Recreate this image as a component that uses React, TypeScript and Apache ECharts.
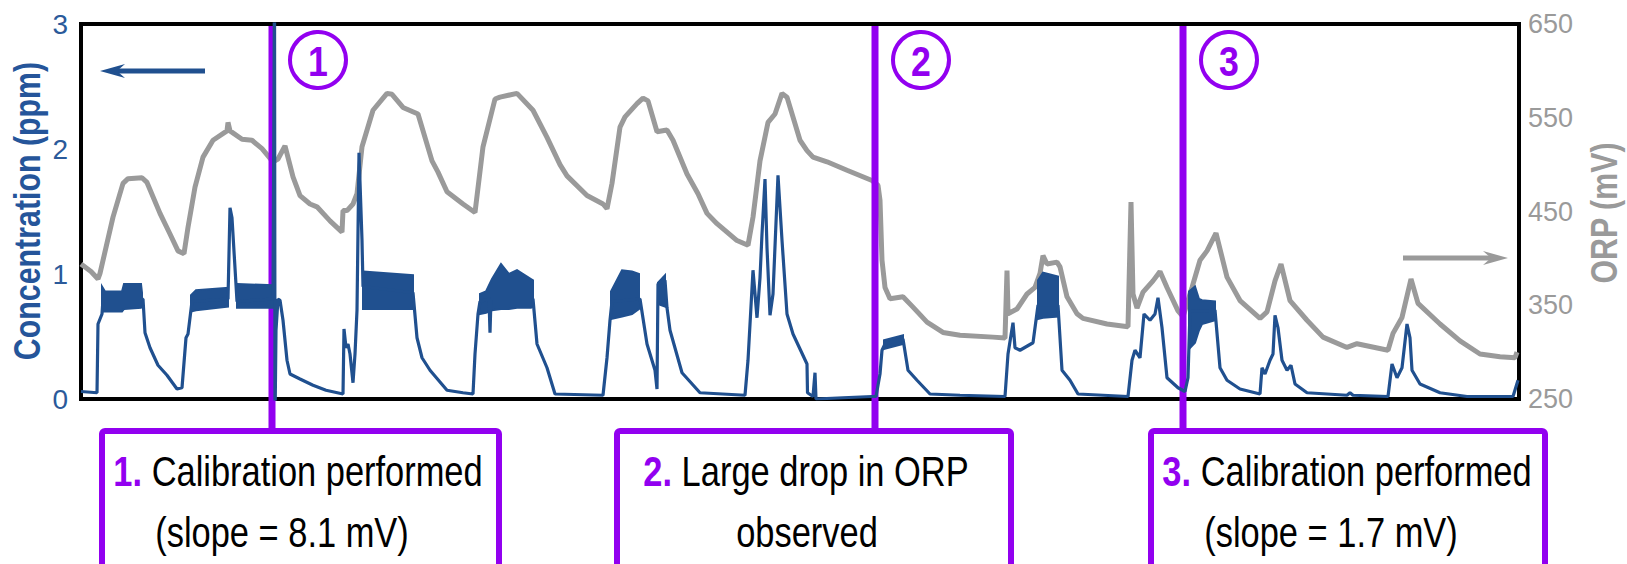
import React, { useEffect, useRef } from "react";
import * as echarts from "echarts";

// x: elapsed time in minutes (0–1438)
const timeMin = 0;
const timeMax = 1438;

// left axis: concentration (ppm)
const concMin = 0;
const concMax = 3;
const concStep = 1;

// right axis: ORP (mV)
const orpMin = 250;
const orpMax = 650;
const orpStep = 100;

// ORP trace [minute, mV]
const orpData: number[][] = [
  [0, 394], [10, 386], [17, 378], [19, 384], [32, 444], [42, 480], [47, 485], [61, 486], [66, 481], [79, 448],
  [89, 426], [97, 408], [103, 405], [107, 433], [114, 476], [122, 508], [132, 526], [146, 536], [147, 545], [149, 536],
  [161, 527], [171, 526], [181, 517], [192, 503], [197, 506], [204, 520], [212, 487], [219, 467], [229, 458], [236, 455],
  [249, 440], [261, 428], [262, 451], [266, 451], [272, 458], [276, 469], [281, 519], [292, 558], [306, 576], [311, 575],
  [322, 561], [337, 554], [351, 504], [357, 492], [366, 471], [382, 458], [394, 449], [402, 519], [414, 570], [419, 572],
  [436, 576], [452, 558], [466, 529], [479, 500], [486, 488], [506, 467], [522, 458], [526, 453], [531, 480], [539, 540],
  [544, 551], [556, 565], [562, 571], [567, 568], [576, 535], [586, 537], [592, 526], [606, 490], [617, 469], [626, 448],
  [636, 437], [656, 419], [667, 414], [672, 444], [679, 504], [687, 545], [694, 554], [701, 576], [706, 572], [719, 526],
  [726, 515], [732, 508], [746, 503], [766, 494], [791, 483], [797, 478], [799, 462], [801, 398], [804, 369], [809, 357],
  [822, 359], [832, 348], [846, 332], [862, 321], [879, 318], [912, 316], [924, 315], [926, 387], [927, 341], [936, 346],
  [946, 362], [954, 369], [959, 384], [962, 403], [966, 394], [976, 396], [979, 391], [986, 359], [996, 341], [1002, 336],
  [1026, 330], [1047, 327], [1050, 460], [1052, 362], [1056, 347], [1062, 364], [1072, 376], [1079, 386], [1086, 369], [1097, 344],
  [1102, 338], [1107, 355], [1111, 369], [1119, 398], [1126, 408], [1135, 427], [1146, 380], [1159, 355], [1179, 336], [1186, 343],
  [1194, 376], [1200, 394], [1209, 355], [1226, 334], [1242, 316], [1266, 305], [1276, 309], [1307, 302], [1312, 320], [1321, 337],
  [1330, 378], [1337, 352], [1359, 330], [1379, 312], [1399, 298], [1419, 295], [1434, 294], [1436, 300],
];

// Concentration trace [minute, ppm]
const concData: number[][] = [
  [0, 0.06], [16, 0.05], [17, 0.6], [21, 0.68], [22, 0.8], [62, 0.8], [64, 0.53], [69, 0.41], [77, 0.27], [86, 0.19],
  [96, 0.08], [101, 0.09], [105, 0.49], [107, 0.52], [111, 0.78], [147, 0.8], [149, 1.53], [151, 1.45], [156, 0.78], [192, 0.8],
  [193.5, 3.4], [194, -0.2], [195, 0.55], [197, 0.8], [199, 0.79], [202, 0.63], [206, 0.31], [209, 0.2], [219, 0.16], [232, 0.11],
  [245, 0.07], [262, 0.04], [263, 0.56], [265, 0.41], [267, 0.44], [269, 0.36], [272, 0.13], [274, 0.36], [276, 0.71], [278, 1.97],
  [281, 1.27], [282, 0.9], [332, 0.85], [336, 0.49], [341, 0.33], [349, 0.23], [366, 0.07], [382, 0.05], [392, 0.04], [394, 0.36],
  [397, 0.68], [399, 0.78], [408, 0.8], [409, 0.53], [410, 0.8], [452, 0.8], [456, 0.44], [466, 0.25], [474, 0.04], [522, 0.03],
  [526, 0.33], [529, 0.63], [531, 0.78], [559, 0.8], [566, 0.44], [574, 0.23], [576, 0.08], [577, 0.92], [584, 0.95], [586, 0.73],
  [589, 0.55], [601, 0.21], [619, 0.05], [664, 0.03], [667, 0.31], [672, 1.03], [676, 0.65], [679, 0.97], [681, 1.32], [684, 1.76],
  [686, 1.21], [689, 0.67], [692, 0.84], [697, 1.79], [701, 1.27], [706, 0.68], [712, 0.52], [726, 0.28], [726.5, 0.05], [732, 0.02],
  [734, 0.21], [735, 0.0], [762, 0.01], [791, 0.02], [795, 0.02], [799, 0.2], [801, 0.39], [804, 0.44], [822, 0.48], [827, 0.23],
  [836, 0.15], [849, 0.04], [879, 0.03], [924, 0.02], [927, 0.36], [932, 0.61], [934, 0.41], [939, 0.39], [952, 0.45], [957, 0.75],
  [977, 0.75], [981, 0.23], [989, 0.15], [997, 0.04], [1047, 0.02], [1051, 0.31], [1054, 0.39], [1059, 0.33], [1063, 0.68], [1069, 0.63],
  [1074, 0.68], [1077, 0.81], [1081, 0.57], [1086, 0.17], [1097, 0.09], [1104, 0.06], [1107, 0.17], [1109, 0.7], [1134, 0.71], [1139, 0.25],
  [1146, 0.15], [1159, 0.08], [1179, 0.04], [1181, 0.25], [1184, 0.2], [1189, 0.31], [1192, 0.36], [1194, 0.67], [1197, 0.57], [1201, 0.31],
  [1206, 0.23], [1210, 0.27], [1214, 0.12], [1226, 0.05], [1266, 0.03], [1269, 0.05], [1272, 0.03], [1307, 0.02], [1311, 0.28], [1316, 0.17],
  [1321, 0.25], [1326, 0.6], [1329, 0.49], [1331, 0.23], [1339, 0.12], [1359, 0.05], [1386, 0.02], [1432, 0.02], [1437, 0.15],
];

// Fast-oscillation envelopes of the concentration signal [minute, low ppm, high ppm]
const concBands: number[][][] = [
  [[21, 0.7, 0.9], [24, 0.7, 0.86], [41, 0.7, 0.86], [43, 0.72, 0.92], [60, 0.73, 0.92], [61, 0.74, 0.85]],
  [[110, 0.7, 0.83], [115, 0.71, 0.87], [147, 0.74, 0.89]],
  [[156, 0.73, 0.92], [192, 0.73, 0.91]],
  [[282, 0.72, 1.02], [332, 0.72, 0.99]],
  [[399, 0.68, 0.84], [405, 0.69, 0.86], [411, 0.71, 0.96], [420, 0.72, 1.08], [428, 0.72, 1.0], [436, 0.73, 1.03], [450, 0.73, 0.96], [452, 0.74, 0.95]],
  [[530, 0.64, 0.86], [541, 0.66, 1.03], [551, 0.68, 1.02], [558, 0.72, 1.0]],
  [[577, 0.76, 0.93], [584, 0.74, 0.99]],
  [[803, 0.4, 0.47], [822, 0.44, 0.51]],
  [[957, 0.64, 0.95], [962, 0.65, 1.01], [977, 0.66, 0.98]],
  [[1108, 0.4, 0.86], [1114, 0.45, 0.9], [1118, 0.55, 0.8], [1121, 0.6, 0.79], [1134, 0.63, 0.78]],
];

// Events (minute at which they occur)
const eventTimes = [191, 794, 1102];
const eventNumbers = ["1", "2", "3"];
const eventLine1 = ["Calibration performed", "Large drop in ORP", "Calibration performed"];
const eventLine2 = ["(slope = 8.1 mV)", "observed", "(slope = 1.7 mV)"];

const PURPLE = "#9200f0";
const BLUE = "#20508f";
const BLUE_TXT = "#2b5a9a";
const GRAY = "#9a9a9a";
const SANS = "'Liberation Sans', Arial, sans-serif";
const NARROW_X = 0.82; // condense Liberation Sans to an Arial-Narrow-like width

const GRID_TOP = 24;
const BOX_TOP = 431;

export default function App() {
  const ref = useRef<HTMLDivElement>(null);

  useEffect(() => {
    if (!ref.current) return;
    const chart = echarts.init(ref.current, undefined, { renderer: "svg" });

    chart.setOption({
      animation: false,
      backgroundColor: "#ffffff",
      grid: {
        left: 81,
        right: 108,
        top: GRID_TOP,
        bottom: 165,
        show: true,
        borderColor: "#000000",
        borderWidth: 4,
        backgroundColor: "transparent",
      },
      xAxis: { type: "value", min: timeMin, max: timeMax, show: false },
      yAxis: [
        {
          type: "value",
          min: concMin,
          max: concMax,
          interval: concStep,
          position: "left",
          axisLine: { show: false },
          axisTick: { show: false },
          splitLine: { show: false },
          axisLabel: { color: BLUE_TXT, fontSize: 28, fontFamily: SANS, margin: 13 },
        },
        {
          type: "value",
          min: orpMin,
          max: orpMax,
          interval: orpStep,
          position: "right",
          axisLine: { show: false },
          axisTick: { show: false },
          splitLine: { show: false },
          axisLabel: { color: GRAY, fontSize: 27, fontFamily: SANS, margin: 9 },
        },
      ],
      series: [
        {
          type: "line",
          name: "ORP",
          yAxisIndex: 1,
          data: orpData,
          showSymbol: false,
          symbol: "none",
          lineStyle: { color: GRAY, width: 5 },
          z: 2,
        },
        {
          type: "custom",
          name: "events",
          yAxisIndex: 0,
          data: eventTimes.map((t) => [t, 0]),
          encode: { x: 0, y: 1 },
          clip: false,
          z: 3,
          renderItem: (params: any, api: any) => {
            const x = api.coord([api.value(0), 0])[0];
            return {
              type: "line",
              shape: { x1: x, y1: GRID_TOP + 2, x2: x, y2: BOX_TOP },
              style: { stroke: PURPLE, lineWidth: 7 },
            };
          },
        },
        {
          type: "custom",
          name: "band",
          yAxisIndex: 0,
          data: concBands.map((b) => [b[0][0], b[0][1]]),
          encode: { x: 0, y: 1 },
          z: 5,
          renderItem: (params: any, api: any) => {
            const band = concBands[params.dataIndex];
            const upper = band.map((p) => api.coord([p[0], p[2]]));
            const lower = band
              .slice()
              .reverse()
              .map((p) => api.coord([p[0], p[1]]));
            return {
              type: "polygon",
              shape: { points: upper.concat(lower) },
              style: { fill: BLUE, stroke: BLUE, lineWidth: 2 },
            };
          },
        },
        {
          type: "line",
          name: "Concentration",
          yAxisIndex: 0,
          data: concData,
          showSymbol: false,
          symbol: "none",
          lineStyle: { color: BLUE, width: 3.2 },
          z: 6,
        },
      ],
    });

    const px = eventTimes.map((t) => chart.convertToPixel({ xAxisIndex: 0 }, t) as number);
    const boxes = [
      { x: 102, w: 397, c1: 298, c2: 282 },
      { x: 617, w: 394, c1: 806, c2: 807 },
      { x: 1151, w: 394, c1: 1347, c2: 1331 },
    ];

    const centered = {
      align: "center",
      verticalAlign: "middle",
      textAlign: "center",
      textVerticalAlign: "middle",
    };

    const graphic: any[] = [];
    px.forEach((x, i) => {
      graphic.push({
        type: "circle",
        z: 7,
        shape: { cx: x + 46, cy: 60, r: 28 },
        style: { fill: "#ffffff", stroke: PURPLE, lineWidth: 4 },
      });
      graphic.push({
        type: "text",
        z: 8,
        x: x + 46,
        y: 61,
        scaleX: 0.85,
        style: {
          text: eventNumbers[i],
          fill: PURPLE,
          font: `bold 42px ${SANS}`,
          ...centered,
        },
      });
      const b = boxes[i];
      graphic.push({
        type: "rect",
        z: 7,
        shape: { x: b.x, y: BOX_TOP, width: b.w, height: 200, r: 3 },
        style: { fill: "none", stroke: PURPLE, lineWidth: 6 },
      });
      graphic.push({
        type: "text",
        z: 8,
        x: b.c1,
        y: 471,
        scaleX: NARROW_X,
        style: {
          text: `{n|${eventNumbers[i]}.} {t|${eventLine1[i]}}`,
          ...centered,
          rich: {
            n: { fill: PURPLE, color: PURPLE, fontWeight: "bold", fontSize: 42, fontFamily: SANS },
            t: { fill: "#000000", color: "#000000", fontSize: 42, fontFamily: SANS },
          },
          font: `42px ${SANS}`,
        },
      });
      graphic.push({
        type: "text",
        z: 8,
        x: b.c2,
        y: 532,
        scaleX: NARROW_X,
        style: {
          text: eventLine2[i],
          fill: "#000000",
          font: `42px ${SANS}`,
          ...centered,
        },
      });
    });

    // axis titles
    graphic.push({
      type: "text",
      x: 27,
      y: 211,
      rotation: Math.PI / 2,
      scaleX: NARROW_X,
      style: {
        text: "Concentration (ppm)",
        fill: "#25559a",
        font: `bold 37px ${SANS}`,
        ...centered,
      },
    });
    graphic.push({
      type: "text",
      x: 1604,
      y: 213,
      rotation: Math.PI / 2,
      scaleX: NARROW_X,
      style: {
        text: "ORP (mV)",
        fill: GRAY,
        font: `bold 37px ${SANS}`,
        ...centered,
      },
    });

    // direction arrows
    graphic.push({
      type: "line",
      z: 8,
      shape: { x1: 116, y1: 71, x2: 205, y2: 71 },
      style: { stroke: BLUE, lineWidth: 5 },
    });
    graphic.push({
      type: "polygon",
      z: 8,
      shape: { points: [[100, 71], [125, 64], [117, 71], [125, 78]] },
      style: { fill: BLUE },
    });
    graphic.push({
      type: "line",
      z: 8,
      shape: { x1: 1403, y1: 258, x2: 1494, y2: 258 },
      style: { stroke: GRAY, lineWidth: 5 },
    });
    graphic.push({
      type: "polygon",
      z: 8,
      shape: { points: [[1508, 258], [1483, 251], [1491, 258], [1483, 265]] },
      style: { fill: GRAY },
    });

    chart.setOption({ graphic });

    return () => chart.dispose();
  }, []);

  return (
    <div
      ref={ref}
      style={{ position: "absolute", left: 0, top: 0, width: 1627, height: 564, background: "#fff" }}
    />
  );
}
